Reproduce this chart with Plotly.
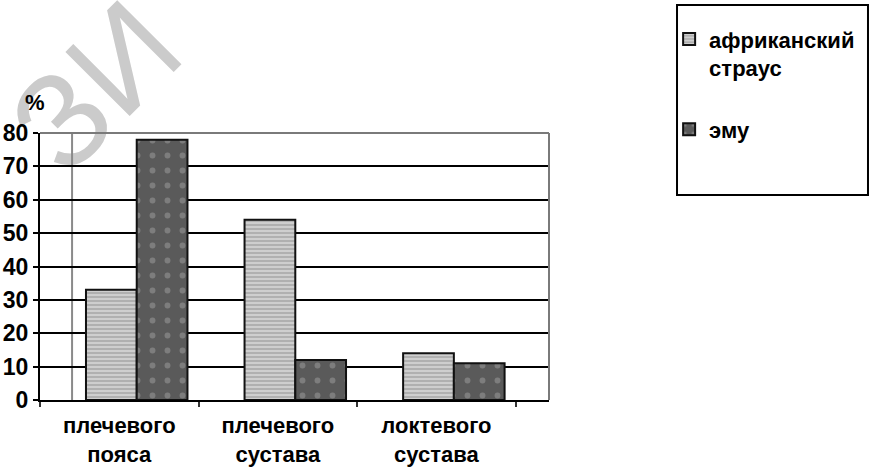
import plotly.graph_objects as go

categories = ["плечевого<br>пояса", "плечевого<br>сустава", "локтевого<br>сустава"]
ostrich = [33, 54, 14]
emu = [78, 12, 11]
series_names = ["африканский<br>страус", "эму"]
y_ticks = [0, 10, 20, 30, 40, 50, 60, 70, 80]

FONT = "Liberation Sans"

fig = go.Figure()
fig.add_trace(go.Bar(
    x=categories, y=ostrich, name=series_names[0], legendgroup="a",
    offset=-0.21, width=0.32,
    marker=dict(color="#c4c4c4", line=dict(color="#111111", width=2),
                pattern=dict(shape="-", fgcolor="#f2f2f2", bgcolor="#b0b0b0", size=4, solidity=0.45)),
))
fig.add_trace(go.Bar(
    x=categories, y=emu, name=series_names[1], legendgroup="b",
    offset=0.11, width=0.32,
    marker=dict(color="#5e5e5e", line=dict(color="#111111", width=2),
                pattern=dict(shape=".", fgcolor="#a0a0a0", bgcolor="#5a5a5a", size=15, solidity=0.12)),
))

fig.update_layout(
    width=870, height=470,
    margin=dict(l=40, r=321, t=133, b=70, autoexpand=False),
    paper_bgcolor="white", plot_bgcolor="rgba(0,0,0,0)",
    barmode="overlay",
    font=dict(family=FONT, size=22, color="black"),
    showlegend=True,
    legend=dict(x=1.236, y=1.43, xanchor="left", yanchor="top",
                bgcolor="rgba(0,0,0,0)", borderwidth=0,
                font=dict(family=FONT, size=22, color="black", weight="bold"),
                tracegroupgap=30, valign="top", itemsizing="constant"),
    xaxis=dict(type="category", range=[-0.5, 2.71], showgrid=False, automargin=False,
               showline=True, linecolor="black", linewidth=2,
               ticks="outside", tickson="boundaries", ticklen=5, tickwidth=2, tickcolor="#333333",
               ticklabelstandoff=5,
               tickfont=dict(family=FONT, size=22, color="black", weight="bold")),
    yaxis=dict(range=[0, 80], tickvals=y_ticks, showgrid=True, gridcolor="black", gridwidth=2,
               automargin=False,
               zeroline=False, showline=True, linecolor="black", linewidth=2,
               ticks="outside", ticklen=5, tickwidth=2, tickcolor="black",
               tickfont=dict(family=FONT, size=23, color="black", weight="bold")),
    shapes=[
        # watermark, behind everything
        dict(type="rect", xref="paper", yref="paper", x0=-0.0076, x1=0.1884, y0=1.11, y1=1.31,
             line=dict(width=0), fillcolor="rgba(0,0,0,0)", layer="below",
             label=dict(text="ЗИ", textposition="middle center", textangle=-45,
                        font=dict(family=FONT, size=132, color="#cbcbcb"))),
        dict(type="line", xref="paper", yref="paper", x0=0, x1=1, y0=1, y1=1,
             line=dict(color="#7a7a7a", width=2)),
        dict(type="line", xref="paper", yref="paper", x0=1, x1=1, y0=0, y1=1,
             line=dict(color="#7a7a7a", width=2)),
        dict(type="line", xref="paper", yref="paper", x0=0.063, x1=0.063, y0=0, y1=1,
             line=dict(color="#8a8a8a", width=2), layer="below"),
        dict(type="rect", xref="paper", yref="paper", x0=1.2515, x1=1.6267, y0=0.768, y1=1.479,
             line=dict(color="black", width=2)),
    ],
    annotations=[
        dict(text="<b>%</b>", xref="paper", yref="paper", x=-0.01, y=1.115,
             xanchor="center", yanchor="middle", showarrow=False,
             font=dict(family=FONT, size=22, color="black")),
    ],
)

fig.write_html("out.html")
